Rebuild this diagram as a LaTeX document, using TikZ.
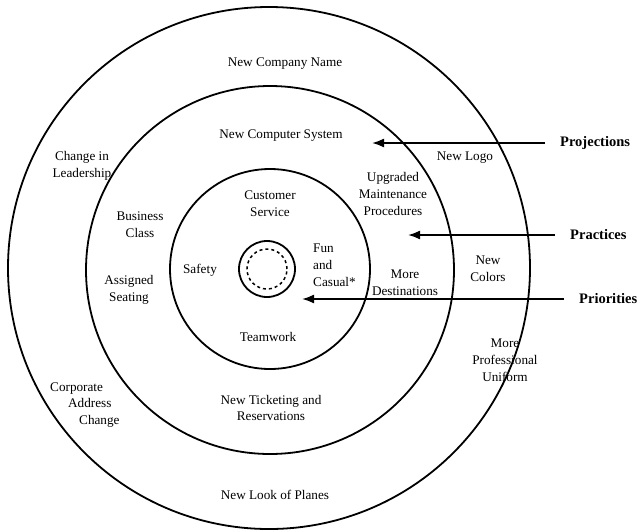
\documentclass[tikz,border=0pt]{standalone}
\usepackage{fontspec}
\setmainfont{Liberation Serif}
\usetikzlibrary{arrows.meta}
\begin{document}
\begin{tikzpicture}[x=1pt,y=-1pt,
  ring/.style={circle, draw, line width=1.8pt, inner sep=0pt},
  lbl/.style={font=\fontsize{13.2}{16.8}\selectfont, align=center, inner sep=1pt},
  side/.style={font=\fontsize{14.5}{17}\selectfont\bfseries, anchor=west, inner sep=2pt},
  pointer/.style={line width=1.8pt, shorten <=13pt, -{Latex[length=12pt,width=9pt]}}]
\useasboundingbox (0,0) rectangle (640,531);
% rings
\node[ring, minimum size=522pt] (outer) at (269,268) {};
\node[ring, minimum size=368pt] (middle) at (270,270) {};
\node[ring, minimum size=200pt] (inner) at (270,269) {};
\node[ring, minimum size=56pt] (core) at (267,269) {};
\node[circle, draw, line width=1.5pt, dash pattern=on 3pt off 3pt, inner sep=0pt, minimum size=40pt] (dcore) at (267,269) {};
% texts
\node[lbl] (t1) at (285,64) {New Company Name};
\node[lbl] (t2) at (281,136) {New Computer System};
\node[lbl] (t3) at (82,166) {Change in\\Leadership};
\node[lbl] (t4) at (465,158) {New Logo};
\node[lbl] (t5) at (393,194) {Upgraded\\Maintenance\\Procedures};
\node[lbl] (t6) at (270,204) {Customer\\Service};
\node[lbl] (t7) at (140,225) {Business\\Class};
\node[lbl, align=left, anchor=west] (t8) at (312,265) {Fun\\and\\Casual*};
\node[lbl] (t9) at (200,270) {Safety};
\node[lbl] (t10) at (488,269) {New\\Colors};
\node[lbl] (t11) at (405,283) {More\\Destinations};
\node[lbl] (t12) at (129,290) {Assigned\\Seating};
\node[lbl] (t13) at (268,337) {Teamwork};
\node[lbl] (t14) at (505,360) {More\\Professional\\Uniform};
\node[lbl, align=left, anchor=west] (t15) at (49,405) {Corporate\\\hspace*{18pt}Address\\\hspace*{29pt}Change};
\node[lbl] (t16) at (271,408) {New Ticketing and\\Reservations};
\node[lbl] (t17) at (275,495) {New Look of Planes};
% side labels and pointers
\node[side] (proj) at (558,143) {Projections};
\node[side] (prac) at (568,235) {Practices};
\node[side] (prio) at (577,299) {Priorities};
\coordinate (projtip) at (372,143);
\coordinate (practip) at (408,235);
\coordinate (priotip) at (302,299);
\draw[pointer] (proj.west) -- (projtip);
\draw[pointer] (prac.west) -- (practip);
\draw[pointer] (prio.west) -- (priotip);
\end{tikzpicture}
\end{document}
